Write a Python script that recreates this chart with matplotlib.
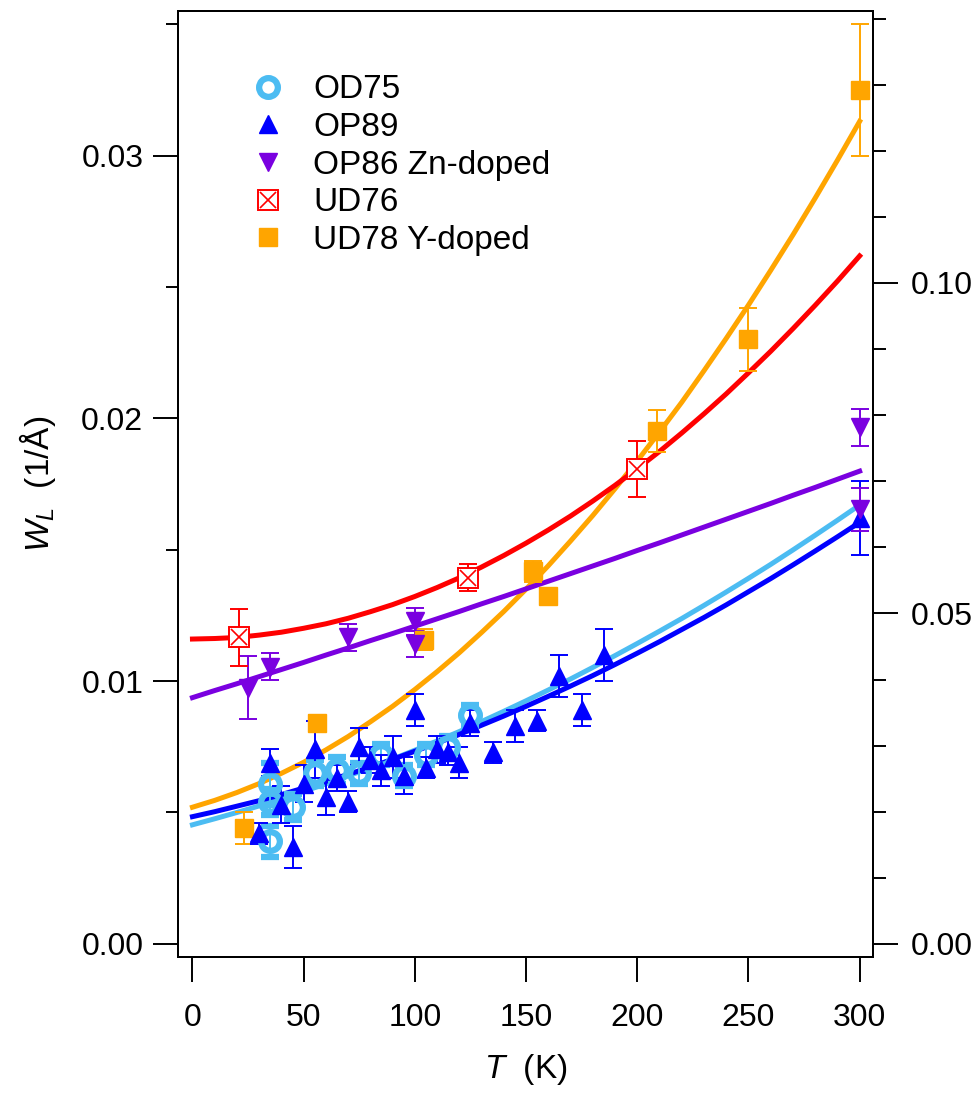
import numpy as np
import matplotlib
matplotlib.use('Agg')
import matplotlib.pyplot as plt
from matplotlib.lines import Line2D

plt.rcParams['font.family'] = ['Liberation Sans', 'DejaVu Sans']
plt.rcParams['mathtext.fontset'] = 'custom'
plt.rcParams['mathtext.rm'] = 'Liberation Sans'
plt.rcParams['mathtext.it'] = 'Liberation Sans:italic'

# data points
od75_T = [35, 35, 35, 45, 55, 65, 75, 85, 95, 105, 115, 125]
od75_W = [0.0061, 0.0054, 0.0039, 0.0052, 0.0065, 0.0066, 0.0065, 0.0072, 0.0064, 0.0072, 0.0075, 0.0087]
od75_err = [0.0008, 0.0005, 0.0006, 0.0005, 0.0005, 0.0005, 0.0004, 0.0004, 0.0004, 0.0004, 0.0004, 0.0004]

op89_T = [30, 35, 40, 45, 50, 55, 60, 65, 70, 75, 80, 85, 90, 95, 100, 105, 110, 115, 120,
          125, 135, 145, 155, 165, 175, 185, 300]
op89_W = [0.0042, 0.0069, 0.0053, 0.0037, 0.0061, 0.0074, 0.0056, 0.0063, 0.0054, 0.0075,
          0.0070, 0.0066, 0.0071, 0.0064, 0.0089, 0.0067, 0.0074, 0.0073, 0.0069, 0.0084,
          0.0073, 0.0083, 0.0085, 0.0102, 0.0089, 0.0110, 0.0162]
op89_err = [0.0004, 0.0005, 0.0007, 0.0008, 0.0007, 0.0011, 0.0007, 0.0005, 0.0004, 0.0007,
            0.0005, 0.0006, 0.0008, 0.0007, 0.0006, 0.0004, 0.0005, 0.0005, 0.0006, 0.0005,
            0.0004, 0.0006, 0.0004, 0.0008, 0.0006, 0.0010, 0.0014]

op86_T = [25, 35, 70, 100, 100, 300, 300]
op86_W = [0.00975, 0.01055, 0.01166, 0.01227, 0.0114, 0.01966, 0.01653]
op86_err = [0.0012, 0.0005, 0.0005, 0.0005, 0.0005, 0.0007, 0.0008]

ud76_T = [21, 124, 200]
ud76_W = [0.01166, 0.01394, 0.01806]
ud76_err = [0.0011, 0.0005, 0.00107]

ud78_T = [23, 56, 104, 153, 160, 209, 250, 300]
ud78_W = [0.0044, 0.0084, 0.01158, 0.01418, 0.01322, 0.01952, 0.0230, 0.0325]
ud78_err = [0.0006, 0.0003, 0.0004, 0.0004, 0.0003, 0.0008, 0.0012, 0.0025]

fit_T = [0, 10, 20, 30, 40, 50, 60, 70, 80, 90, 100, 110, 120, 130, 140, 150,
         160, 170, 180, 190, 200, 210, 220, 230, 240, 250, 260, 270, 280, 290, 300]
fit_od75 = [0.00453, 0.00476, 0.00500, 0.00525, 0.00552, 0.00580, 0.00609, 0.00639,
            0.00670, 0.00703, 0.00737, 0.00772, 0.00808, 0.00846, 0.00885, 0.00925,
            0.00966, 0.01008, 0.01052, 0.01097, 0.01143, 0.01190, 0.01238, 0.01288,
            0.01339, 0.01391, 0.01444, 0.01499, 0.01555, 0.01612, 0.01670]
fit_op89 = [0.00484, 0.00503, 0.00524, 0.00545, 0.00568, 0.00593, 0.00618, 0.00645,
            0.00673, 0.00702, 0.00733, 0.00764, 0.00797, 0.00832, 0.00867, 0.00904,
            0.00942, 0.00981, 0.01021, 0.01063, 0.01106, 0.01150, 0.01196, 0.01242,
            0.01290, 0.01340, 0.01390, 0.01442, 0.01495, 0.01549, 0.01604]
fit_op86 = [0.00937, 0.00964, 0.00990, 0.01017, 0.01044, 0.01071, 0.01099, 0.01126,
            0.01154, 0.01181, 0.01209, 0.01237, 0.01265, 0.01294, 0.01322, 0.01351,
            0.01380, 0.01409, 0.01438, 0.01467, 0.01497, 0.01526, 0.01556, 0.01586,
            0.01616, 0.01646, 0.01676, 0.01707, 0.01737, 0.01768, 0.01799]
fit_ud76 = [0.01160, 0.01162, 0.01166, 0.01175, 0.01186, 0.01201, 0.01218, 0.01239,
            0.01264, 0.01291, 0.01322, 0.01356, 0.01393, 0.01434, 0.01478, 0.01525,
            0.01575, 0.01628, 0.01685, 0.01745, 0.01808, 0.01874, 0.01944, 0.02017,
            0.02093, 0.02173, 0.02255, 0.02341, 0.02430, 0.02522, 0.02618]
fit_ud78 = [0.00520, 0.00546, 0.00576, 0.00610, 0.00649, 0.00691, 0.00738, 0.00789,
            0.00845, 0.00904, 0.00968, 0.01036, 0.01108, 0.01185, 0.01265, 0.01350,
            0.01439, 0.01533, 0.01630, 0.01732, 0.01838, 0.01948, 0.02061, 0.02181,
            0.02304, 0.02431, 0.02563, 0.02698, 0.02838, 0.02982, 0.03130]

c_od75 = '#4cbcf2'
c_op89 = '#0000ff'
c_op86 = '#7a00e0'
c_ud76 = '#ff0000'
c_ud78 = '#ffa500'

fig = plt.figure(figsize=(9.79, 10.93), dpi=100)
ax = fig.add_axes([178/979, 1-957/1093, 695/979, 946/1093])

lw = 3.6
ax.plot(fit_T, fit_ud78, color=c_ud78, lw=lw, zorder=2)
ax.plot(fit_T, fit_ud76, color=c_ud76, lw=lw, zorder=2)
ax.plot(fit_T, fit_op86, color=c_op86, lw=lw, zorder=2)
ax.plot(fit_T, fit_od75, color=c_od75, lw=lw, zorder=2)
ax.plot(fit_T, fit_op89, color=c_op89, lw=lw, zorder=2)

ekw = dict(ls='none', capsize=6.5, elinewidth=1.4, capthick=1.4, zorder=3)
ax.errorbar(ud78_T, ud78_W, yerr=ud78_err, marker='s', ms=13, mfc=c_ud78, mec=c_ud78,
            color=c_ud78, **ekw)
ax.errorbar(od75_T, od75_W, yerr=od75_err, marker='o', ms=13.5, mfc='none', mec=c_od75,
            mew=4.5, color=c_od75, **ekw)
ax.errorbar(op89_T, op89_W, yerr=op89_err, marker='^', ms=13, mfc=c_op89, mec=c_op89,
            color=c_op89, **ekw)
ax.errorbar(op86_T, op86_W, yerr=op86_err, marker='v', ms=13, mfc=c_op86, mec=c_op86,
            color=c_op86, **ekw)
ax.errorbar(ud76_T, ud76_W, yerr=ud76_err, marker='s', ms=15, mfc='white', mec=c_ud76,
            mew=1.4, color=c_ud76, **ekw)
ax.plot(ud76_T, ud76_W, ls='none', marker='x', ms=11, mec=c_ud76, mew=1.2, zorder=4)

ax.set_xlim(-6.5, 306)
ax.set_ylim(-0.0005, 0.0355)
ax.set_xticks([0, 50, 100, 150, 200, 250, 300])
ax.set_yticks([0.00, 0.01, 0.02, 0.03])
ax.set_yticklabels(['0.00', '0.01', '0.02', '0.03'])
ax.set_yticks(np.arange(0.005, 0.036, 0.01), minor=True)

ax.tick_params(axis='both', which='major', direction='out', length=18, width=1.4,
               labelsize=23)
ax.tick_params(axis='y', which='major', pad=7)
ax.tick_params(axis='y', which='minor', direction='out', length=9, width=1.4)
ax.tick_params(axis='x', which='major', pad=15)
for s in ax.spines.values():
    s.set_linewidth(1.4)

ax2 = ax.twinx()
ax2.set_ylim(-0.00197, 0.14115)
ax2.set_yticks([0.00, 0.05, 0.10])
ax2.set_yticklabels(['0.00', '0.05', '0.10'])
ax2.set_yticks([0.01, 0.02, 0.03, 0.04, 0.06, 0.07, 0.08, 0.09, 0.11, 0.12, 0.13, 0.14],
               minor=True)
ax2.tick_params(axis='y', which='major', direction='out', length=18, width=1.4,
                labelsize=23, pad=9)
ax2.tick_params(axis='y', which='minor', direction='out', length=9, width=1.4)
for s in ax2.spines.values():
    s.set_linewidth(1.4)

ax.set_xlabel('$T$  (K)', fontsize=24, labelpad=14)
ax.set_ylabel('$W_L$  (1/Å)', fontsize=24, labelpad=17)

h_ud76 = (Line2D([], [], ls='none', marker='s', ms=15, mfc='white', mec=c_ud76, mew=1.4),
          Line2D([], [], ls='none', marker='x', ms=11, mec=c_ud76, mew=1.2))
handles = [
    Line2D([], [], ls='none', marker='o', ms=13.5, mfc='none', mec=c_od75, mew=4.5),
    Line2D([], [], ls='none', marker='^', ms=13, mfc=c_op89, mec=c_op89),
    Line2D([], [], ls='none', marker='v', ms=13, mfc=c_op86, mec=c_op86),
    h_ud76,
    Line2D([], [], ls='none', marker='s', ms=13, mfc=c_ud78, mec=c_ud78),
]
labels = ['OD75', 'OP89', 'OP86 Zn-doped', 'UD76', 'UD78 Y-doped']
ax.legend(handles, labels, loc='upper left', bbox_to_anchor=(0.106, 0.933),
          frameon=False, fontsize=24, handlelength=1.0, handletextpad=0.85,
          labelspacing=0.2, borderpad=0, borderaxespad=0, numpoints=1)

fig.savefig('out.png', dpi=100)
